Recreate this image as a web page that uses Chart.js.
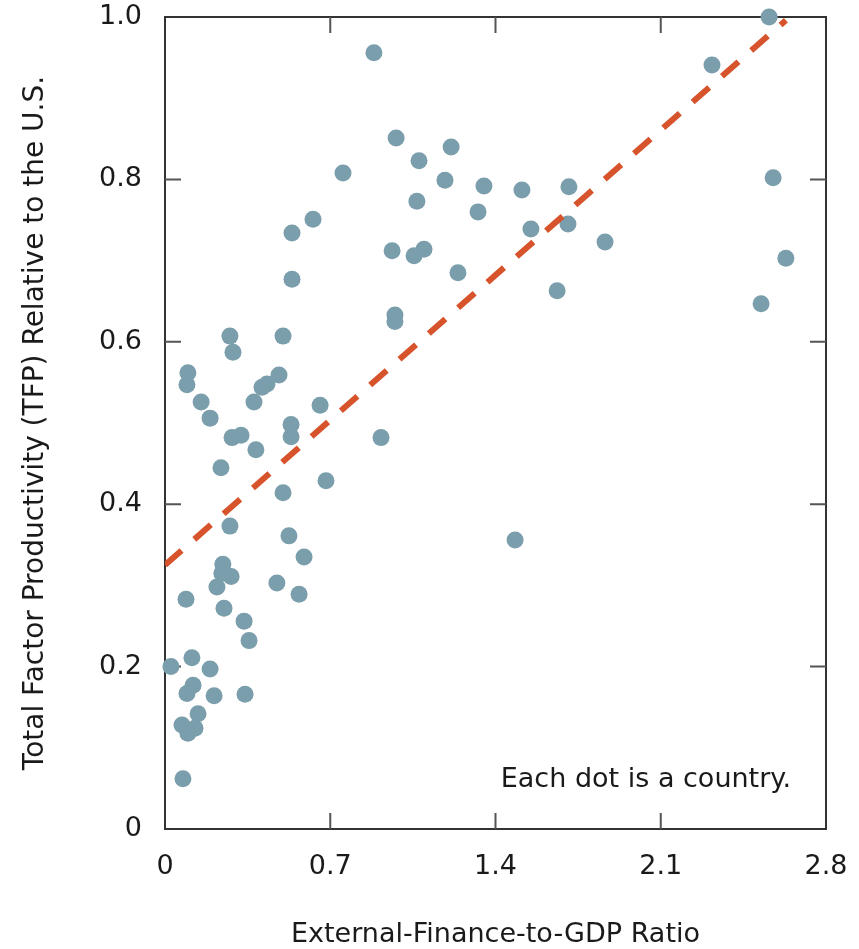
<!DOCTYPE html>
<html>
<head>
<meta charset="utf-8">
<script src="https://cdn.jsdelivr.net/npm/chart.js@4"></script>
<style>
  body { margin: 0; background: #fff; }
  #wrap { width: 859px; height: 949px; }
</style>
</head>
<body>
<div id="wrap"><canvas id="tfpChart"></canvas></div>
<script>
// External finance / GDP (x) and TFP relative to the U.S. (y), one entry per country
const gdpRatio = [
  0.885, 0.979, 1.212, 1.076, 0.754, 1.186, 1.351, 1.512, 1.711, 1.067,
  1.326, 0.627, 0.538, 1.550, 1.707, 0.962, 1.097, 1.055, 1.864, 0.538,
  1.241, 1.661, 0.974, 0.974, 0.275, 0.500, 0.288, 0.097, 0.093, 0.483,
  0.432, 0.411, 0.153, 0.377, 0.191, 0.657, 0.534, 0.534, 0.284, 0.322,
  0.915, 0.385, 0.237, 0.682, 0.500, 0.275, 0.525, 0.589, 1.483,
  0.245, 0.241, 0.280, 0.220, 0.474, 0.568, 0.089, 0.250, 0.335, 0.356,
  0.025, 0.114, 0.191, 0.119, 0.093, 0.208, 0.339, 0.140, 0.072, 0.097,
  0.127, 0.076,
  2.559, 2.317, 2.576, 2.630, 2.525
];
const tfp = [
  0.956, 0.851, 0.840, 0.823, 0.808, 0.799, 0.792, 0.787, 0.791, 0.773,
  0.760, 0.751, 0.734, 0.739, 0.745, 0.712, 0.714, 0.706, 0.723, 0.677,
  0.685, 0.663, 0.633, 0.625, 0.607, 0.607, 0.587, 0.562, 0.547, 0.559,
  0.548, 0.544, 0.526, 0.526, 0.506, 0.522, 0.498, 0.483, 0.482, 0.485,
  0.482, 0.467, 0.445, 0.429, 0.414, 0.373, 0.361, 0.335, 0.356,
  0.326, 0.315, 0.311, 0.298, 0.303, 0.289, 0.283, 0.272, 0.256, 0.232,
  0.200, 0.211, 0.197, 0.177, 0.167, 0.164, 0.166, 0.142, 0.128, 0.118,
  0.124, 0.062,
  1.000, 0.941, 0.802, 0.703, 0.647
];

// fitted trend line end points
const trendX = [0, 2.63];
const trendY = [0.325, 0.996];

const xTicks = [0.7, 1.4, 2.1];
const yTicks = [0.2, 0.4, 0.6, 0.8];

const FONT = "'DejaVu Sans', sans-serif";

// frame, inward ticks and the note
const framePlugin = {
  id: 'frame',
  beforeDatasetsDraw(chart) {
    const { ctx, chartArea: a, scales } = chart;
    ctx.save();
    ctx.strokeStyle = '#333';
    ctx.lineWidth = 2;
    ctx.strokeRect(a.left, a.top, a.right - a.left, a.bottom - a.top);
    ctx.strokeStyle = '#555';
    ctx.beginPath();
    xTicks.forEach(v => {
      const px = scales.x.getPixelForValue(v);
      ctx.moveTo(px, a.bottom); ctx.lineTo(px, a.bottom - 16);
      ctx.moveTo(px, a.top); ctx.lineTo(px, a.top + 16);
    });
    yTicks.forEach(v => {
      const py = scales.y.getPixelForValue(v);
      ctx.moveTo(a.left, py); ctx.lineTo(a.left + 16, py);
      ctx.moveTo(a.right, py); ctx.lineTo(a.right - 16, py);
    });
    ctx.stroke();
    ctx.fillStyle = '#1a1a1a';
    ctx.font = '27px ' + FONT;
    ctx.textAlign = 'right';
    ctx.textBaseline = 'alphabetic';
    ctx.fillText('Each dot is a country.', a.right - 35, a.bottom - 42);
    ctx.restore();
  }
};

new Chart(document.getElementById('tfpChart'), {
  type: 'scatter',
  data: {
    datasets: [
      {
        type: 'line',
        data: trendX.map((x, i) => ({ x, y: trendY[i] })),
        borderColor: '#D6532B',
        borderWidth: 6,
        borderDash: [22, 17],
        pointRadius: 0,
        fill: false,
        order: 0
      },
      {
        data: gdpRatio.map((x, i) => ({ x, y: tfp[i] })),
        backgroundColor: '#7A9EAC',
        borderWidth: 0,
        pointRadius: 8.5,
        clip: false,
        order: 1
      }
    ]
  },
  options: {
    responsive: true,
    maintainAspectRatio: false,
    animation: false,
    layout: { autoPadding: false, padding: { top: 17, right: 33, left: 0, bottom: 0 } },
    plugins: { legend: { display: false }, tooltip: { enabled: false } },
    scales: {
      x: {
        type: 'linear', min: 0, max: 2.8,
        grid: { display: false, drawTicks: false },
        border: { display: false },
        ticks: {
          stepSize: 0.7, padding: 22, color: '#1a1a1a',
          font: { family: FONT, size: 27 },
          callback: v => v === 0 ? '0' : v.toFixed(1)
        },
        title: {
          display: true, text: 'External-Finance-to-GDP Ratio', color: '#1a1a1a',
          font: { family: FONT, size: 27, lineHeight: 1 }, padding: { top: 0, bottom: 1 }
        },
        afterFit: s => { s.height = 120; s.paddingLeft = 0; s.paddingRight = 0; }
      },
      y: {
        min: 0, max: 1.0,
        grid: { display: false, drawTicks: false },
        border: { display: false },
        ticks: {
          stepSize: 0.2, padding: 23, color: '#1a1a1a',
          font: { family: FONT, size: 27 },
          callback: v => v === 0 ? '0' : v.toFixed(1)
        },
        title: {
          display: true, text: 'Total Factor Productivity (TFP) Relative to the U.S.', color: '#1a1a1a',
          font: { family: FONT, size: 28, lineHeight: 1 }, padding: { top: 22, bottom: 0 }
        },
        afterFit: s => { s.width = 165; s.paddingTop = 0; s.paddingBottom = 0; }
      }
    }
  },
  plugins: [framePlugin]
});
</script>
</body>
</html>
